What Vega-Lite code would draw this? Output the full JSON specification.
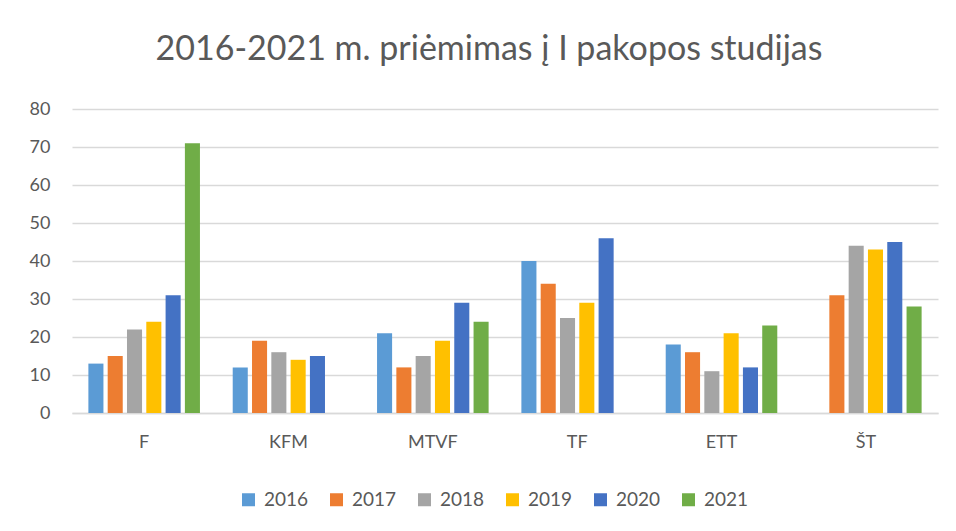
{
  "$schema": "https://vega.github.io/schema/vega-lite/v6.json",
  "width": 866,
  "height": 304,
  "autosize": {"type": "none"},
  "padding": {"left": 72, "top": 109, "right": 18, "bottom": 118},
  "background": "white",
  "title": {
    "text": "2016-2021 m. priėmimas į I pakopos studijas",
    "font": "Lato",
    "fontSize": 34,
    "fontWeight": 400,
    "color": "#595959",
    "anchor": "middle",
    "dx": -16,
    "offset": 33
  },
  "data": {
    "values": [
      {"fakultetas": "F", "metai": "2016", "kiekis": 13},
      {"fakultetas": "F", "metai": "2017", "kiekis": 15},
      {"fakultetas": "F", "metai": "2018", "kiekis": 22},
      {"fakultetas": "F", "metai": "2019", "kiekis": 24},
      {"fakultetas": "F", "metai": "2020", "kiekis": 31},
      {"fakultetas": "F", "metai": "2021", "kiekis": 71},
      {"fakultetas": "KFM", "metai": "2016", "kiekis": 12},
      {"fakultetas": "KFM", "metai": "2017", "kiekis": 19},
      {"fakultetas": "KFM", "metai": "2018", "kiekis": 16},
      {"fakultetas": "KFM", "metai": "2019", "kiekis": 14},
      {"fakultetas": "KFM", "metai": "2020", "kiekis": 15},
      {"fakultetas": "MTVF", "metai": "2016", "kiekis": 21},
      {"fakultetas": "MTVF", "metai": "2017", "kiekis": 12},
      {"fakultetas": "MTVF", "metai": "2018", "kiekis": 15},
      {"fakultetas": "MTVF", "metai": "2019", "kiekis": 19},
      {"fakultetas": "MTVF", "metai": "2020", "kiekis": 29},
      {"fakultetas": "MTVF", "metai": "2021", "kiekis": 24},
      {"fakultetas": "TF", "metai": "2016", "kiekis": 40},
      {"fakultetas": "TF", "metai": "2017", "kiekis": 34},
      {"fakultetas": "TF", "metai": "2018", "kiekis": 25},
      {"fakultetas": "TF", "metai": "2019", "kiekis": 29},
      {"fakultetas": "TF", "metai": "2020", "kiekis": 46},
      {"fakultetas": "ETT", "metai": "2016", "kiekis": 18},
      {"fakultetas": "ETT", "metai": "2017", "kiekis": 16},
      {"fakultetas": "ETT", "metai": "2018", "kiekis": 11},
      {"fakultetas": "ETT", "metai": "2019", "kiekis": 21},
      {"fakultetas": "ETT", "metai": "2020", "kiekis": 12},
      {"fakultetas": "ETT", "metai": "2021", "kiekis": 23},
      {"fakultetas": "ŠT", "metai": "2017", "kiekis": 31},
      {"fakultetas": "ŠT", "metai": "2018", "kiekis": 44},
      {"fakultetas": "ŠT", "metai": "2019", "kiekis": 43},
      {"fakultetas": "ŠT", "metai": "2020", "kiekis": 45},
      {"fakultetas": "ŠT", "metai": "2021", "kiekis": 28}
    ]
  },
  "mark": {"type": "bar"},
  "encoding": {
    "x": {
      "field": "fakultetas",
      "type": "nominal",
      "sort": ["F", "KFM", "MTVF", "TF", "ETT", "ŠT"],
      "scale": {"paddingInner": 0.227, "paddingOuter": 0.1135},
      "axis": {
        "title": null,
        "labelAngle": 0,
        "labelFont": "Lato",
        "labelFontSize": 18,
        "labelColor": "#595959",
        "labelPadding": 20,
        "ticks": false,
        "domainColor": "#D9D9D9",
        "domainWidth": 1.3
      }
    },
    "xOffset": {
      "field": "metai",
      "type": "nominal",
      "scale": {"domain": ["2016", "2017", "2018", "2019", "2020", "2021"], "paddingInner": 0.22, "paddingOuter": 0}
    },
    "y": {
      "field": "kiekis",
      "type": "quantitative",
      "scale": {"domain": [0, 80]},
      "axis": {
        "title": null,
        "values": [0, 10, 20, 30, 40, 50, 60, 70, 80],
        "labelFont": "Lato",
        "labelFontSize": 18,
        "labelColor": "#595959",
        "labelPadding": 22,
        "ticks": false,
        "domain": false,
        "gridColor": "#D9D9D9",
        "gridWidth": 1.3
      }
    },
    "color": {
      "field": "metai",
      "type": "nominal",
      "scale": {
        "domain": ["2016", "2017", "2018", "2019", "2020", "2021"],
        "range": ["#5B9BD5", "#ED7D31", "#A5A5A5", "#FFC000", "#4472C4", "#70AD47"]
      },
      "legend": {
        "title": null,
        "orient": "none",
        "legendX": 167,
        "legendY": 381,
        "direction": "horizontal",
        "symbolType": "square",
        "symbolSize": 169,
        "symbolStrokeWidth": 0,
        "labelFont": "Lato",
        "labelFontSize": 19,
        "labelColor": "#595959",
        "labelOffset": 6,
        "columnPadding": 18
      }
    }
  },
  "config": {
    "view": {"stroke": null}
  }
}
